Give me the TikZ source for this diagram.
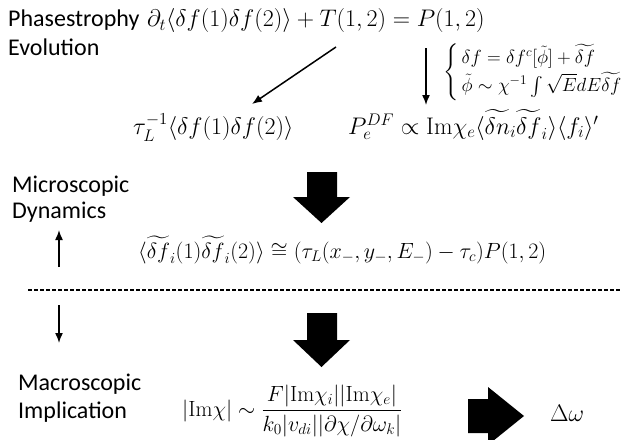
\documentclass[tikz,border=0pt]{standalone}
\usepackage{fix-cm}
\usepackage{amsmath,amssymb}
\usepackage{fontspec}
\newfontfamily\lblfont{Carlito}
\usetikzlibrary{arrows.meta}
\tikzset{
  lbl/.style={inner sep=0pt, anchor=base west, font=\lblfont\fontsize{24}{28}\selectfont},
  mth/.style={inner sep=0pt, anchor=base west, font=\fontsize{24}{29}\selectfont},
  mthsm/.style={inner sep=0pt, anchor=base west, font=\fontsize{22}{26}\selectfont},
  smallmth/.style={inner sep=0pt, font=\fontsize{19}{23}\selectfont},
  thinarrow/.style={line width=1.5pt, -{Latex[length=10pt,width=8pt]}},
  blockarrow/.style={fill=black, draw=none},
  sepline/.style={line width=1.6pt, dash pattern=on 4pt off 2pt}
}
\begin{document}
\begin{tikzpicture}[x=1pt,y=-1pt]
\useasboundingbox (0,0) rectangle (621,439);
% labels
\node[lbl] (phase) at (8,27) {Phasestrophy};
\node[lbl] (evol) at (8,55) {Evolution};
\node[lbl] (micro) at (12,192) {Microscopic};
\node[lbl] (dyn) at (12,218) {Dynamics};
\node[lbl] (macro) at (18,390) {Macroscopic};
\node[lbl] (impl) at (18,418) {Implication};
% equations
\node[mth] (eqtop) at (147,27) {$\partial_t\langle\delta f(1)\delta f(2)\rangle + T(1,2) = P(1,2)$};
\node[mth] (eqtau) at (133,134) {$\tau_L^{-1}\langle\delta f(1)\delta f(2)\rangle$};
\node[mth] (eqp) at (348,134) {$P_e^{DF}\propto \mathrm{Im}\chi_e\langle\widetilde{\delta n}_i\widetilde{\delta f}_i\rangle\langle f_i\rangle'$};
\node[smallmth, anchor=west] (cases) at (443,72) {\renewcommand{\arraystretch}{1.2}$\left\{\begin{array}{@{\,}l}\delta f=\delta f^c[\tilde\phi]+\widetilde{\delta f}\\ \tilde\phi\sim\chi^{-1}\int\sqrt{E}dE\widetilde{\delta f}\end{array}\right.$};
\node[mthsm] (eqmid) at (138,258) {$\langle\widetilde{\delta f}_i(1)\widetilde{\delta f}_i(2)\rangle \cong (\tau_L(x_-,y_-,E_-)-\tau_c)P(1,2)$};
\node[mthsm] (eqbot) at (182,416) {$|\mathrm{Im}\chi| \sim \dfrac{F|\mathrm{Im}\chi_i||\mathrm{Im}\chi_e|}{k_0|v_{di}||\partial\chi/\partial\omega_k|}$};
\node[mth] (dw) at (550,421) {$\Delta\omega$};
% thin arrows
\coordinate (d1s) at (336,47);
\coordinate (d1e) at (252,104);
\coordinate (v1s) at (426,48);
\coordinate (v1e) at (426,105);
\coordinate (ups) at (59,267);
\coordinate (upe) at (59,230);
\coordinate (dns) at (59,305);
\coordinate (dne) at (59,343);
\draw[thinarrow] (d1s) -- (d1e);
\draw[thinarrow] (v1s) -- (v1e);
\draw[thinarrow] (ups) -- (upe);
\draw[thinarrow] (dns) -- (dne);
% dashed separator
\coordinate (sepL) at (28,290);
\coordinate (sepR) at (621,290);
\draw[sepline] (sepL) -- (sepR);
% block arrows
\fill[blockarrow] (307,172) -- (337,172) -- (337,197) -- (350,197) -- (321.5,223) -- (293,197) -- (307,197) -- cycle;
\fill[blockarrow] (307,313) -- (337,313) -- (337,340) -- (350,340) -- (321.5,367) -- (293,340) -- (307,340) -- cycle;
\fill[blockarrow] (468,399) -- (488,399) -- (488,387) -- (524,416) -- (488,445) -- (488,433) -- (468,433) -- cycle;
\end{tikzpicture}
\end{document}
